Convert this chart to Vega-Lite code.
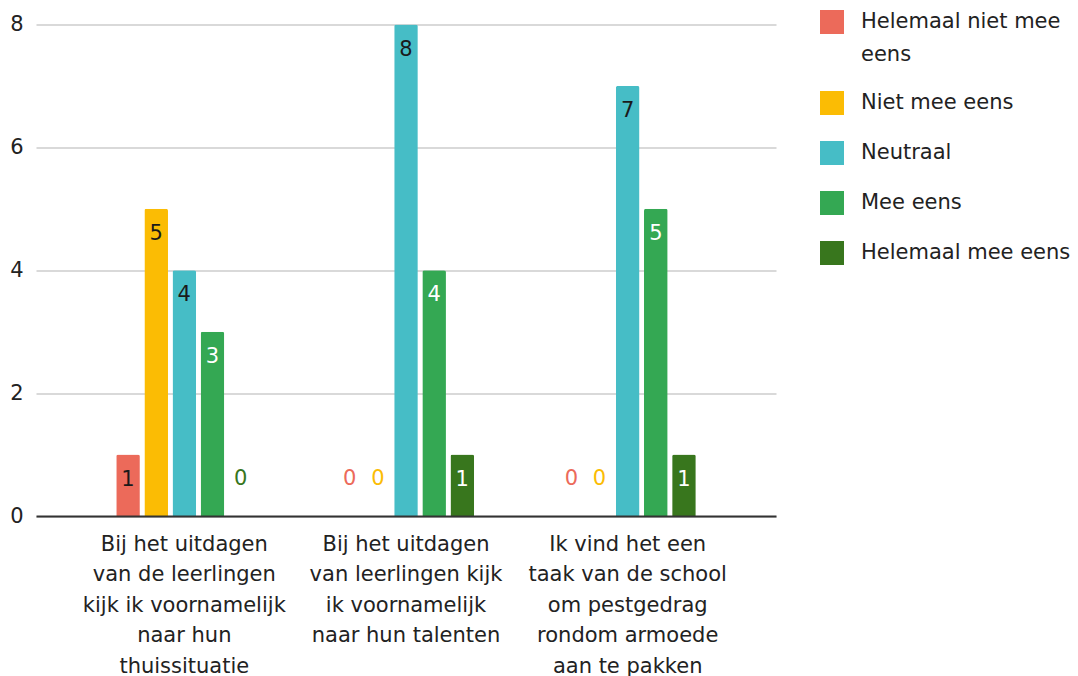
{
  "$schema": "https://vega.github.io/schema/vega-lite/v6.json",
  "width": 740,
  "height": 491.5,
  "autosize": "none",
  "padding": {"left": 36, "top": 24.5, "right": 302, "bottom": 160},
  "config": {"view": {"stroke": null}, "font": "DejaVu Sans", "style": {"guide-label": {"lineHeight": 33}}},
  "data": {
    "values": [
      {"question": "Bij het uitdagen|van de leerlingen|kijk ik voornamelijk|naar hun|thuissituatie", "answer": "Helemaal niet mee eens", "count": 1},
      {"question": "Bij het uitdagen|van de leerlingen|kijk ik voornamelijk|naar hun|thuissituatie", "answer": "Niet mee eens", "count": 5},
      {"question": "Bij het uitdagen|van de leerlingen|kijk ik voornamelijk|naar hun|thuissituatie", "answer": "Neutraal", "count": 4},
      {"question": "Bij het uitdagen|van de leerlingen|kijk ik voornamelijk|naar hun|thuissituatie", "answer": "Mee eens", "count": 3},
      {"question": "Bij het uitdagen|van de leerlingen|kijk ik voornamelijk|naar hun|thuissituatie", "answer": "Helemaal mee eens", "count": 0},
      {"question": "Bij het uitdagen|van leerlingen kijk|ik voornamelijk|naar hun talenten", "answer": "Helemaal niet mee eens", "count": 0},
      {"question": "Bij het uitdagen|van leerlingen kijk|ik voornamelijk|naar hun talenten", "answer": "Niet mee eens", "count": 0},
      {"question": "Bij het uitdagen|van leerlingen kijk|ik voornamelijk|naar hun talenten", "answer": "Neutraal", "count": 8},
      {"question": "Bij het uitdagen|van leerlingen kijk|ik voornamelijk|naar hun talenten", "answer": "Mee eens", "count": 4},
      {"question": "Bij het uitdagen|van leerlingen kijk|ik voornamelijk|naar hun talenten", "answer": "Helemaal mee eens", "count": 1},
      {"question": "Ik vind het een|taak van de school|om pestgedrag|rondom armoede|aan te pakken", "answer": "Helemaal niet mee eens", "count": 0},
      {"question": "Ik vind het een|taak van de school|om pestgedrag|rondom armoede|aan te pakken", "answer": "Niet mee eens", "count": 0},
      {"question": "Ik vind het een|taak van de school|om pestgedrag|rondom armoede|aan te pakken", "answer": "Neutraal", "count": 7},
      {"question": "Ik vind het een|taak van de school|om pestgedrag|rondom armoede|aan te pakken", "answer": "Mee eens", "count": 5},
      {"question": "Ik vind het een|taak van de school|om pestgedrag|rondom armoede|aan te pakken", "answer": "Helemaal mee eens", "count": 1}
    ]
  },
  "encoding": {
    "x": {
      "field": "question",
      "type": "nominal",
      "sort": null,
      "scale": {"paddingInner": 0.132, "paddingOuter": 0.235},
      "axis": {
        "title": null,
        "labelExpr": "split(datum.label, '|')",
        "labelFontSize": 21,
        "labelColor": "#222222",
        "labelLineHeight": 30.5,
        "labelPadding": 17,
        "labelBaseline": "top",
        "labelAngle": 0,
        "labelLimit": 0,
        "ticks": false,
        "domainColor": "#333333",
        "domainWidth": 2,
        "zindex": 1
      }
    },
    "xOffset": {
      "field": "answer",
      "type": "nominal",
      "sort": ["Helemaal niet mee eens", "Niet mee eens", "Neutraal", "Mee eens", "Helemaal mee eens"],
      "scale": {"paddingInner": 0.16, "paddingOuter": 1}
    },
    "y": {
      "field": "count",
      "type": "quantitative",
      "scale": {"domain": [0, 8]},
      "axis": {
        "title": null,
        "values": [0, 2, 4, 6, 8],
        "domain": false,
        "ticks": false,
        "labelPadding": 13,
        "labelFontSize": 21,
        "labelColor": "#222222",
        "gridColor": "#cccccc",
        "gridWidth": 1.3
      }
    }
  },
  "layer": [
    {
      "mark": {"type": "bar", "cornerRadiusTopLeft": 2, "cornerRadiusTopRight": 2},
      "encoding": {
        "color": {
          "field": "answer",
          "type": "nominal",
          "scale": {
            "domain": ["Helemaal niet mee eens", "Niet mee eens", "Neutraal", "Mee eens", "Helemaal mee eens"],
            "range": ["#ec6a5a", "#fbbc04", "#46bdc6", "#34a853", "#38761d"]
          },
          "legend": {
            "orient": "none",
            "legendX": 784,
            "legendY": -14.5,
            "title": null,
            "direction": "vertical",
            "symbolType": "square",
            "symbolSize": 576,
            "symbolStrokeWidth": 0,
            "symbolOpacity": 1,
            "labelFontSize": 21,
            "labelColor": "#222222",
            "labelOffset": 17,
            "labelLimit": 300,
            "rowPadding": 26,
            "padding": 0,
            "labelExpr": "datum.label == 'Helemaal niet mee eens' ? ['Helemaal niet mee', 'eens'] : datum.label"
          }
        }
      }
    },
    {
      "transform": [{"filter": "datum.count > 0"}],
      "mark": {"type": "text", "dy": 25, "fontSize": 21, "baseline": "middle"},
      "encoding": {
        "text": {"field": "count", "type": "quantitative"},
        "color": {
          "condition": {"test": "datum.answer == 'Mee eens' || datum.answer == 'Helemaal mee eens'", "value": "#ffffff"},
          "value": "#1a1a1a"
        }
      }
    },
    {
      "transform": [{"filter": "datum.count == 0"}],
      "mark": {"type": "text", "dy": -37, "fontSize": 21, "baseline": "middle"},
      "encoding": {
        "text": {"field": "count", "type": "quantitative"},
        "color": {"field": "answer", "type": "nominal", "legend": null}
      }
    }
  ]
}
